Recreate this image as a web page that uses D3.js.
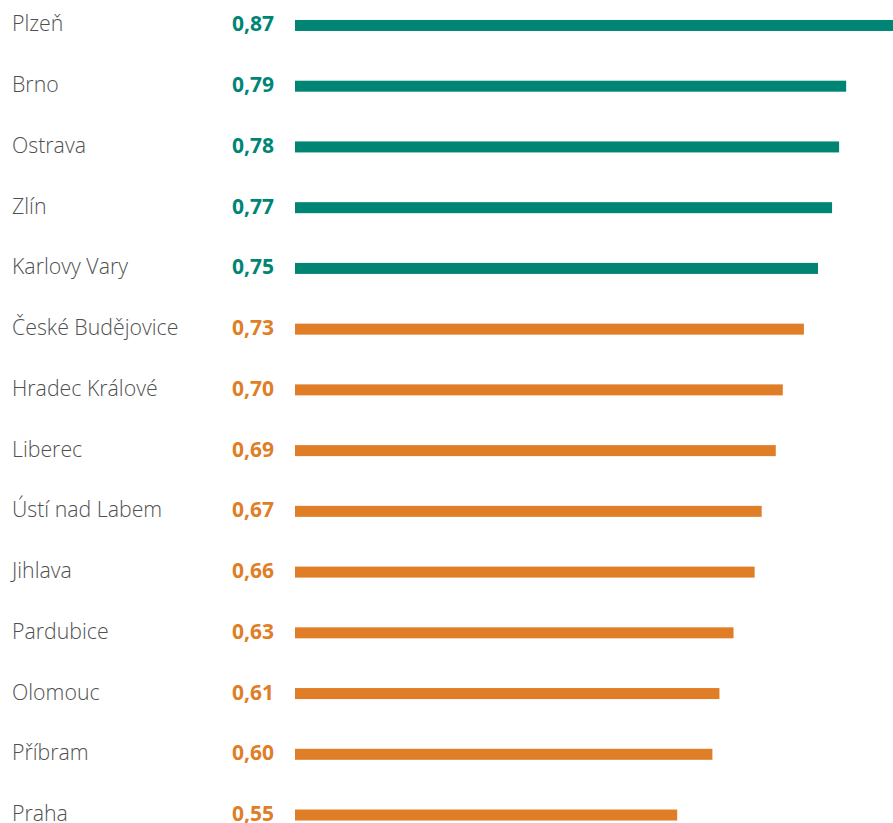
<html>
<head>
<style>
  body { margin: 0; background: #fff; }
  text { font-family: "Open Sans", sans-serif; }
</style>
</head>
<body>
<svg id="container" width="893" height="823"></svg>
<script src="https://cdn.jsdelivr.net/npm/d3@7"></script>
<script>
  let cities = ["Plzeň", "Brno", "Ostrava", "Zlín", "Karlovy Vary", "České Budějovice",
    "Hradec Králové", "Liberec", "Ústí nad Labem", "Jihlava", "Pardubice", "Olomouc",
    "Příbram", "Praha"]
  let values = [0.87, 0.79, 0.78, 0.77, 0.75, 0.73, 0.70, 0.69, 0.67, 0.66, 0.63, 0.61, 0.60, 0.55]
  let groups = ["top", "top", "top", "top", "top", "rest", "rest", "rest", "rest", "rest",
    "rest", "rest", "rest", "rest"]

  let data = cities.map((c, i) => ({ city: c, value: values[i], group: groups[i] }))

  let svg = d3.select("#container")

  let color = d3.scaleOrdinal()
    .domain(["top", "rest"])
    .range(["#008575", "#e07e27"])

  let x = d3.scaleLinear()
    .domain([0, 1])
    .range([290, 994])

  let y = d3.scaleBand()
    .domain(cities)
    .range([-4.9, 845.4])

  let fmt = d => d.toFixed(2).replace(".", ",")

  let rows = svg.selectAll("g.row")
    .data(data)
    .enter().append("g")
    .attr("class", "row")
    .attr("transform", d => "translate(0," + (y(d.city) + y.bandwidth() / 2) + ")")

  rows.append("rect")
    .attr("x", 295)
    .attr("y", -5.5)
    .attr("height", 11)
    .attr("width", d => x(d.value) - 295)
    .attr("fill", d => color(d.group))

  rows.append("text")
    .attr("x", 12)
    .attr("y", 6)
    .attr("font-size", 21.3)
    .attr("font-weight", 300)
    .attr("fill", "#505050")
    .text(d => d.city)

  rows.append("text")
    .attr("x", 274)
    .attr("y", 6)
    .attr("text-anchor", "end")
    .attr("font-size", 21)
    .attr("font-weight", 700)
    .attr("fill", d => color(d.group))
    .text(d => fmt(d.value))
</script>
</body>
</html>
